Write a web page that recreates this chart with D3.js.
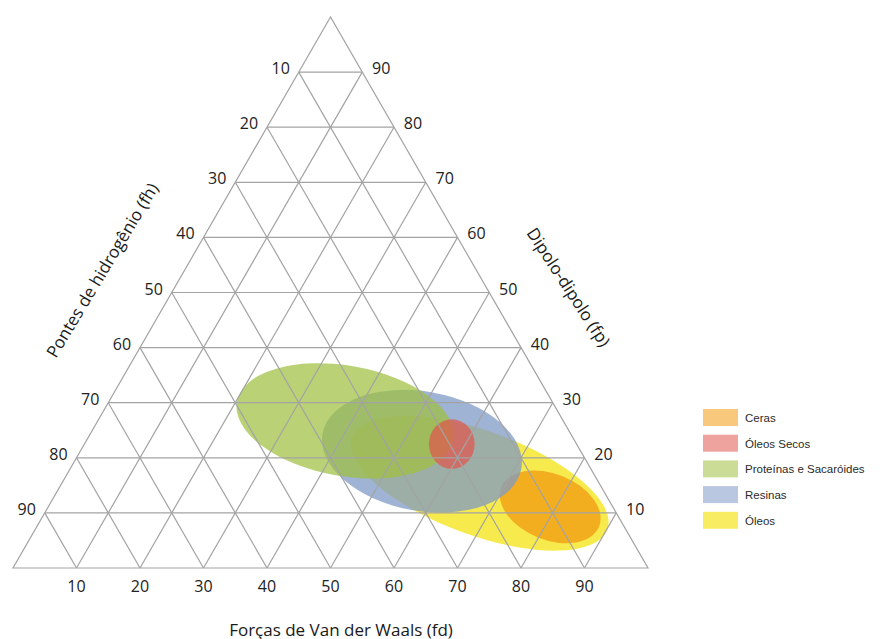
<!DOCTYPE html>
<html>
<head>
<meta charset="utf-8">
<script src="https://cdn.jsdelivr.net/npm/d3@7"></script>
<style>
  body { margin: 0; background: #fff; }
</style>
</head>
<body>
<svg id="teas" width="884" height="639"></svg>
<script>
// grid steps (percent)
var steps = [10, 20, 30, 40, 50, 60, 70, 80, 90];
var leftLabels = ["10", "20", "30", "40", "50", "60", "70", "80", "90"];
var rightLabels = ["90", "80", "70", "60", "50", "40", "30", "20", "10"];
var bottomLabels = ["10", "20", "30", "40", "50", "60", "70", "80", "90"];

// regions: centre (fd, fh), half axes in fd units, tilt in degrees
var regionNames = ["Óleos", "Ceras", "Resinas", "Proteínas e Sacaróides", "Óleos Secos"];
var regionFd = [73.5, 84.6, 64.4, 52.3, 69.1];
var regionFh = [84.6, 88.9, 78.8, 73.3, 77.5];
var regionRx = [21.4, 8.3, 15.9, 17.3, 3.6];
var regionRy = [8.2, 5.2, 9.4, 8.7, 3.9];
var regionTilt = [20, 22, 10, 10, 0];
var regionColor = ["#f4e62e", "#f29a12", "#7f99c6", "#a0c040", "#e0584f"];
var regionAlpha = [0.85, 0.75, 0.75, 0.72, 0.72];

var legendNames = ["Ceras", "Óleos Secos", "Proteínas e Sacaróides", "Resinas", "Óleos"];

var svg = d3.select("#teas");
var x = d3.scaleLinear().domain([0, 100]).range([13, 648]);
var y = d3.scaleLinear().domain([0, 100]).range([17, 568]);

// regions first, grid over them
var regions = svg.append("g");
regionNames.forEach(function(name, i){
  regions.append("ellipse")
    .attr("cx", x(regionFd[i])).attr("cy", y(regionFh[i]))
    .attr("rx", x(regionRx[i]) - x(0)).attr("ry", x(regionRy[i]) - x(0))
    .attr("transform", "rotate(" + regionTilt[i] + "," + x(regionFd[i]) + "," + y(regionFh[i]) + ")")
    .attr("fill", regionColor[i]).attr("fill-opacity", regionAlpha[i]);
});

var grid = svg.append("g").attr("stroke", "#a3a3a3").attr("stroke-width", 1.2).attr("fill", "none");

// outline
grid.append("path").attr("d", "M" + x(50) + "," + y(0) + "L" + x(0) + "," + y(100) + "L" + x(100) + "," + y(100) + "Z");

steps.forEach(function(s){
  // horizontal
  grid.append("line").attr("x1", x(50 - s / 2)).attr("y1", y(s)).attr("x2", x(50 + s / 2)).attr("y2", y(s));
  // parallel to left edge
  var t = (100 - s) / 100;
  grid.append("line").attr("x1", x(s)).attr("y1", y(100)).attr("x2", x(s + 50 * t)).attr("y2", y(100 - 100 * t));
  // parallel to right edge
  grid.append("line").attr("x1", x(s)).attr("y1", y(100)).attr("x2", x(s / 2)).attr("y2", y(100 - s));
});

var font = "'Open Sans', sans-serif";
var ticks = svg.append("g").attr("font-family", font).attr("font-size", 16).attr("fill", "#222")
  .attr("text-anchor", "middle").attr("dominant-baseline", "central");

steps.forEach(function(s, i){
  ticks.append("text").attr("x", x(50 - s / 2) - 18).attr("y", y(s) - 4).text(leftLabels[i]);
  ticks.append("text").attr("x", x(50 + s / 2) + 19).attr("y", y(s) - 4).text(rightLabels[i]);
  ticks.append("text").attr("x", x(s)).attr("y", y(100) + 18).text(bottomLabels[i]);
});

var titles = svg.append("g").attr("font-family", font).attr("font-size", 17).attr("fill", "#1a1a1a")
  .attr("text-anchor", "middle").attr("dominant-baseline", "central");
titles.append("text").attr("x", 341).attr("y", 629).text("Forças de Van der Waals (fd)");
titles.append("text").attr("transform", "translate(102,270) rotate(-59)").text("Pontes de hidrogênio (fh)");
titles.append("text").attr("transform", "translate(569,287) rotate(57)").text("Dipolo-dipolo (fp)");

// legend
var legend = svg.append("g").attr("transform", "translate(703,409)");
legendNames.forEach(function(name, i){
  var k = regionNames.indexOf(name);
  var row = legend.append("g").attr("transform", "translate(0," + (i * 25.7) + ")");
  row.append("rect").attr("width", 35).attr("height", 17)
    .attr("fill", regionColor[k]).attr("fill-opacity", k === 0 ? 0.75 : 0.55);
  row.append("text").attr("x", 42).attr("y", 9).attr("dominant-baseline", "central")
    .attr("font-family", "'Liberation Sans', Arial, sans-serif").attr("font-size", 11.5)
    .attr("fill", "#2a2a2a").text(name);
});
</script>
</body>
</html>
